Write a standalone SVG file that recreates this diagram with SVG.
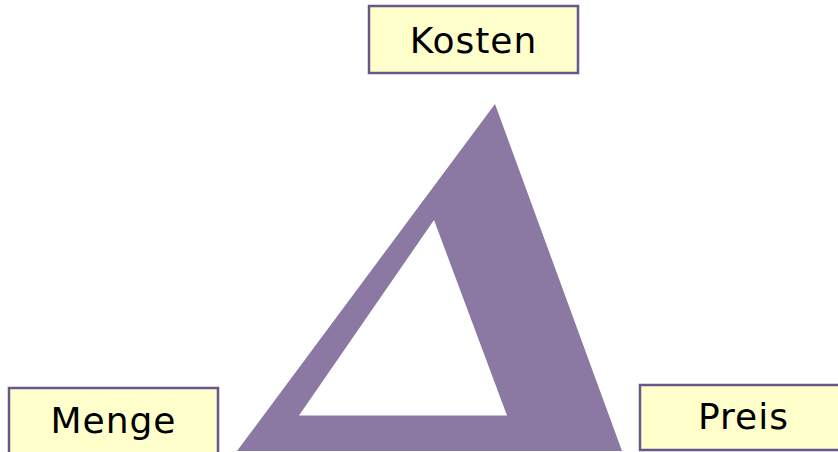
<svg xmlns="http://www.w3.org/2000/svg" width="838" height="452" viewBox="0 0 838 452">
<style>
.box{fill:#FFFFCC;stroke:#67578A;stroke-width:2.5}
.lbl{font-family:"DejaVu Sans",Verdana,sans-serif;font-size:36px;letter-spacing:1px;fill:#000;text-anchor:middle}
</style>
<rect width="838" height="452" fill="#fff"/>
<g id="triangle">
<path d="M495,104 L237,451 L622,451 Z M434,220 L299,415.5 L507,415.5 Z" fill="#8B78A3" fill-rule="evenodd"/>
</g>
<g id="connectors"></g>
<g id="kosten">
<rect class="box" x="369" y="6" width="209" height="67"/>
<text class="lbl" x="473.5" y="53">Kosten</text>
</g>
<g id="menge">
<rect class="box" x="9" y="388" width="209" height="67"/>
<text class="lbl" x="113.5" y="433">Menge</text>
</g>
<g id="preis">
<rect class="box" x="640" y="385" width="209" height="65"/>
<text class="lbl" x="743.5" y="429">Preis</text>
</g>
</svg>
